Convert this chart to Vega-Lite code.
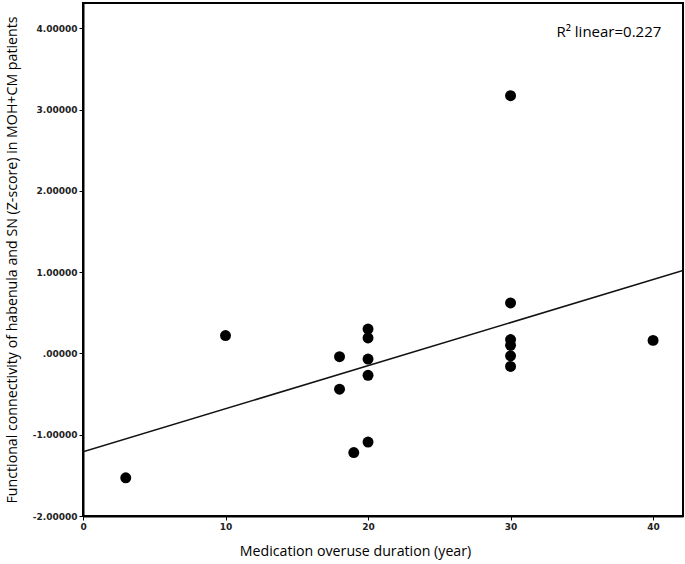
{
  "$schema": "https://vega.github.io/schema/vega-lite/v6.json",
  "width": 600,
  "height": 513,
  "autosize": {"type": "none"},
  "padding": {"left": 83, "top": 3, "right": 2, "bottom": 48},
  "background": "white",
  "config": {
    "view": {"stroke": "black", "strokeWidth": 2},
    "axis": {
      "grid": false,
      "domainColor": "black",
      "domainWidth": 2,
      "tickColor": "black",
      "tickSize": 4,
      "labelFlush": false,
      "labelFont": "DejaVu Sans",
      "labelFontSize": 9,
      "labelFontWeight": "bold",
      "labelColor": "#222",
      "titleFont": "Open Sans",
      "titleFontSize": 14.2,
      "titleFontWeight": "normal",
      "titleColor": "black"
    }
  },
  "datasets": {
    "pts": [
      {"duration": 3, "fc": -1.53},
      {"duration": 10, "fc": 0.22},
      {"duration": 18, "fc": -0.04},
      {"duration": 18, "fc": -0.44},
      {"duration": 19, "fc": -1.22},
      {"duration": 20, "fc": 0.30},
      {"duration": 20, "fc": 0.19},
      {"duration": 20, "fc": -0.07},
      {"duration": 20, "fc": -0.27},
      {"duration": 20, "fc": -1.09},
      {"duration": 30, "fc": 3.17},
      {"duration": 30, "fc": 0.62},
      {"duration": 30, "fc": 0.17},
      {"duration": 30, "fc": 0.10},
      {"duration": 30, "fc": -0.03},
      {"duration": 30, "fc": -0.16},
      {"duration": 40, "fc": 0.16}
    ],
    "fit": [
      {"duration": 0, "fc": -1.21},
      {"duration": 42.1, "fc": 1.02}
    ],
    "note": [
      {"duration": 36.9, "fc": 3.95, "label": "R² linear=0.227"}
    ]
  },
  "layer": [
    {
      "data": {"name": "fit"},
      "mark": {"type": "line", "color": "#111", "strokeWidth": 1.6, "clip": true},
      "encoding": {
        "x": {"field": "duration", "type": "quantitative"},
        "y": {"field": "fc", "type": "quantitative"}
      }
    },
    {
      "data": {"name": "pts"},
      "mark": {"type": "circle", "color": "black", "opacity": 1, "size": 120},
      "encoding": {
        "x": {
          "field": "duration",
          "type": "quantitative",
          "scale": {"domain": [0, 42.1], "nice": false, "zero": false},
          "axis": {"values": [0, 10, 20, 30, 40], "title": "Medication overuse duration (year)", "titlePadding": 13, "labelPadding": 2, "titleX": 272, "titleAnchor": null}
        },
        "y": {
          "field": "fc",
          "type": "quantitative",
          "scale": {"domain": [-2, 4.31], "nice": false, "zero": false},
          "axis": {
            "values": [-2, -1, 0, 1, 2, 3, 4],
            "labelExpr": "datum.value == 0 ? '.00000' : replace(format(datum.value, '.5f'), '−', '-')",
            "title": "Functional connectivity of habenula and SN (Z-score) in MOH+CM patients",
            "titlePadding": 13,
            "labelPadding": 2
          }
        }
      }
    },
    {
      "data": {"name": "note"},
      "mark": {"type": "text", "font": "Open Sans", "fontSize": 15, "color": "black", "align": "center", "baseline": "middle"},
      "encoding": {
        "x": {"field": "duration", "type": "quantitative"},
        "y": {"field": "fc", "type": "quantitative"},
        "text": {"field": "label"}
      }
    }
  ]
}
